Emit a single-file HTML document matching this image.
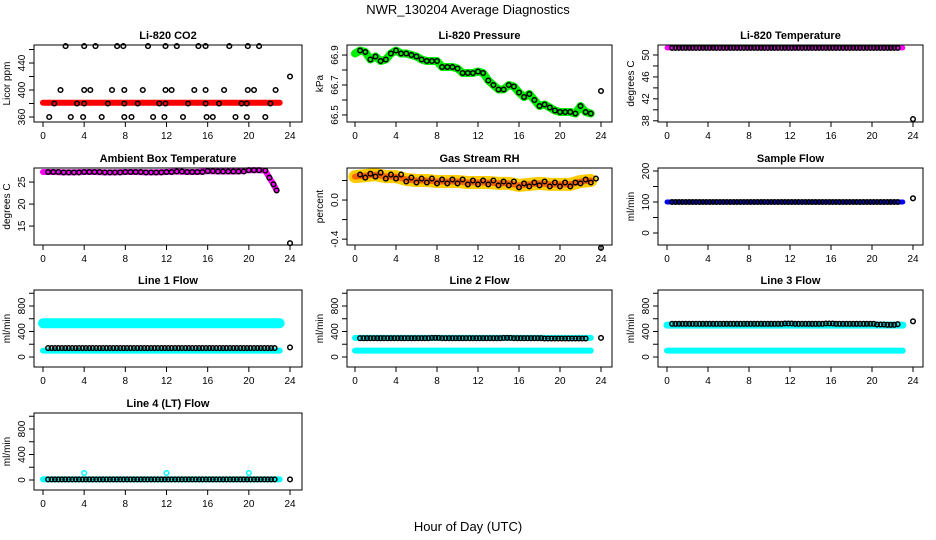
<!DOCTYPE html>
<html><head><meta charset="utf-8">
<style>
html,body{margin:0;padding:0;background:#fff;}
svg{display:block;font-family:"Liberation Sans",sans-serif;}
</style></head>
<body>
<svg id="chart" width="936" height="540" viewBox="0 0 936 540" xmlns="http://www.w3.org/2000/svg">
<text x="468" y="14" text-anchor="middle" font-size="13">NWR_130204  Average Diagnostics</text>
<text x="468" y="531" text-anchor="middle" font-size="13">Hour of Day (UTC)</text>
</svg>
<script>
// ---- data ----
const xTicks = [0,4,8,12,16,20,24];
const hourly = [0,1,2,3,4,5,6,7,8,9,10,11,12,13,14,15,16,17,18,19,20,21,22,23];
const halfHours = [0,0.5,1,1.5,2,2.5,3,3.5,4,4.5,5,5.5,6,6.5,7,7.5,8,8.5,9,9.5,10,10.5,11,11.5,12,12.5,13,13.5,14,14.5,15,15.5,16,16.5,17,17.5,18,18.5,19,19.5,20,20.5,21,21.5,22,22.5,23];

const co2Band = [381,381,381,381,381,381,381,381,381,381,381,381,381,381,381,381,381,381,381,381,381,381,381,381];
const co2PtHours = [2.2,4,5.1,7.2,7.8,10.2,11.9,13,15.1,15.8,18.1,19.9,21,1.7,4,4.6,6.7,7.9,9.7,11.9,12.5,14.7,15.8,17.6,19.9,20.5,22.6,1.1,3.3,4,6.3,7.9,9.2,11.3,11.9,14.1,15.8,17.1,19.3,19.8,22.1,0.6,2.7,3.9,5.7,7.9,8.6,10.7,11.8,13.6,15.9,16.5,18.7,19.8,21.6,24];
const co2PtValues = [465,465,465,465,465,465,465,465,465,465,465,465,465,400,400,400,400,400,400,400,400,400,400,400,400,400,400,380,380,380,380,380,380,380,380,380,380,380,380,380,380,360,360,360,360,360,360,360,360,360,360,360,360,360,360,420];

const pressBand = [66.91,66.93,66.92,66.87,66.89,66.86,66.87,66.91,66.93,66.91,66.91,66.90,66.89,66.87,66.86,66.86,66.86,66.82,66.82,66.82,66.81,66.78,66.78,66.78,66.79,66.78,66.73,66.70,66.67,66.67,66.70,66.69,66.65,66.62,66.64,66.60,66.56,66.57,66.55,66.53,66.52,66.52,66.52,66.51,66.56,66.52,66.51];
const pressLast = 66.66;

const tempBand = [51.3,51.3,51.3,51.3,51.3,51.3,51.3,51.3,51.3,51.3,51.3,51.3,51.3,51.3,51.3,51.3,51.3,51.3,51.3,51.3,51.3,51.3,51.3,51.3];
const tempLast = 38.3;

const ambHours = [0,1,2,3,4,5,6,7,8,9,10,11,12,13,14,15,16,17,18,19,20,21,21.6,22,22.4,22.7];
const ambBand = [27.3,27.3,27.2,27.2,27.3,27.3,27.2,27.2,27.3,27.3,27.2,27.2,27.3,27.4,27.3,27.3,27.5,27.4,27.4,27.4,27.7,27.7,27.6,26.0,24.5,23.1];
const ambLast = 11.1;

const rhBand = [0.24,0.25,0.26,0.24,0.24,0.21,0.20,0.20,0.19,0.19,0.19,0.18,0.18,0.18,0.17,0.17,0.15,0.16,0.17,0.16,0.16,0.16,0.19,0.20];
const rhLast = -0.49;

const sampleBand = [100,100,100,100,100,100,100,100,100,100,100,100,100,100,100,100,100,100,100,100,100,100,100,100];
const sampleLast = 112;

const l1High = [530,530,530,530,530,530,530,530,530,530,530,530,530,530,530,530,530,530,530,530,530,530,530,530];
const l1Low = [100,100,100,100,100,100,100,100,100,100,100,100,100,100,100,100,100,100,100,100,100,100,100,100];
const l1Black = [140,140,140,140,140,140,140,140,140,140,140,140,140,140,140,140,140,140,140,140,140,140,140,140];
const l1Last = 150;
const l2High = [300,300,300,300,300,300,300,300,300,300,300,300,300,300,300,300,300,300,300,300,300,300,300,300];
const l2Low = [100,100,100,100,100,100,100,100,100,100,100,100,100,100,100,100,100,100,100,100,100,100,100,100];
const l2Black = [295,295,295,295,295,295,295,300,295,295,295,295,295,295,300,295,295,295,290,290,290,290,290,290];
const l2Last = 300;
const l3High = [500,500,500,500,500,500,500,500,500,500,500,500,500,500,500,500,500,500,500,500,500,500,500,500];
const l3Low = [100,100,100,100,100,100,100,100,100,100,100,100,100,100,100,100,100,100,100,100,100,100,100,100];
const l3Black = [520,520,520,520,520,520,520,520,520,520,520,525,520,520,520,525,520,520,520,520,510,505,515,520];
const l3Last = 560;
const l4Band = [10,10,10,10,10,10,10,10,10,10,10,10,10,10,10,10,10,10,10,10,10,10,10,10];
const l4SpikeHours = [4,12,20];
const l4Spikes = [110,110,110];
const l4Last = 10;

// ---- layout ----
const cols = [{l:34,r:302,x0:43,x24:290},{l:347,r:612,x0:355,x24:601},{l:658,r:923,x0:667,x24:913}];
const rowTops = [45,168,290,413];
const BH = 77;
const svg = document.getElementById('chart');
const NS = 'http://www.w3.org/2000/svg';
function mk(tag, attrs, parent){
  const e = document.createElementNS(NS, tag);
  for (const k in attrs) e.setAttribute(k, attrs[k]);
  (parent||svg).appendChild(e); return e;
}
const flowDom=[-157,1051], flowTicks=[0,200,400,600,800,1000], flowLabels=[0,400,800];
const panels = [
 {key:'co2',title:'Li-820 CO2',ylab:'Licor ppm',c:0,r:0,dom:[352.6,466.7],ticks:[360,380,400,420,440,460],labels:[360,400,440]},
 {key:'pressure',title:'Li-820 Pressure',ylab:'kPa',c:1,r:0,dom:[66.453,66.967],ticks:[66.5,66.6,66.7,66.8,66.9],labels:[66.5,66.7,66.9],fmt:1},
 {key:'temperature',title:'Li-820 Temperature',ylab:'degrees C',c:2,r:0,dom:[37.78,51.82],ticks:[38,40,42,44,46,48,50],labels:[38,42,46,50]},
 {key:'ambient',title:'Ambient Box Temperature',ylab:'degrees C',c:0,r:1,dom:[10.7,28.2],ticks:[15,20,25],labels:[15,20,25]},
 {key:'rh',title:'Gas Stream RH',ylab:'percent',c:1,r:1,dom:[-0.46,0.328],ticks:[-0.4,-0.2,0,0.2],labels:[-0.4,0],fmt:1},
 {key:'sample',title:'Sample Flow',ylab:'ml/min',c:2,r:1,dom:[-38.7,209.7],ticks:[0,50,100,150,200],labels:[0,100,200]},
 {key:'line1',title:'Line 1 Flow',ylab:'ml/min',c:0,r:2,dom:flowDom,ticks:flowTicks,labels:flowLabels},
 {key:'line2',title:'Line 2 Flow',ylab:'ml/min',c:1,r:2,dom:flowDom,ticks:flowTicks,labels:flowLabels},
 {key:'line3',title:'Line 3 Flow',ylab:'ml/min',c:2,r:2,dom:flowDom,ticks:flowTicks,labels:flowLabels},
 {key:'line4',title:'Line 4 (LT) Flow',ylab:'ml/min',c:0,r:3,dom:flowDom,ticks:flowTicks,labels:flowLabels},
];
function setup(p){
  const col=cols[p.c], top=rowTops[p.r], bot=top+BH;
  const g = mk('g',{});
  
  
  p.g=g;
  p.X = h => col.x0 + (h/24)*(col.x24-col.x0);
  p.Y = v => bot - (v-p.dom[0])/(p.dom[1]-p.dom[0])*BH;
  p.top=top; p.bot=bot; p.col=col;
  const t = mk('text',{x:(col.l+col.r)/2,y:top-6,'text-anchor':'middle','font-size':'11','font-weight':'bold'},g);
  t.textContent=p.title;
  
  
}
function band(p, xs, ys, color, w, name){
  const pts = xs.map((h,i)=>p.X(h).toFixed(1)+','+p.Y(ys[i]).toFixed(1)).join(' ');
  const pl = mk('polyline',{points:pts,fill:'none',stroke:color,'stroke-width':w,'stroke-linejoin':'round','stroke-linecap':'round'},p.g);
  
  
}
function pt(p, h, v, color, name){
  const c = mk('circle',{cx:p.X(h).toFixed(1),cy:p.Y(v).toFixed(1),r:2.3,fill:'none',stroke:color,'stroke-width':1.5},p.g);
  
  
}
function hourlyPts(p, vals, color, name, from, to){
  hourly.forEach((h,i)=>{
    [0,1/3,2/3].forEach(o=>{ const hh=h+o+0.5; if(hh>=from && hh<=to) pt(p,hh,vals[i],color,name); });
  });
}
function frame(p){
  const col=p.col, g=p.g;
  const box = mk('rect',{x:col.l,y:p.top,width:col.r-col.l,height:BH,fill:'none',stroke:'#000','stroke-width':1},g);
  
  
  xTicks.forEach(h=>{
    const x=p.X(h);
    mk('line',{x1:x,y1:p.bot,x2:x,y2:p.bot+5,stroke:'#000'},g);
    const t=mk('text',{x:x,y:p.bot+17,'text-anchor':'middle','font-size':'10'},g);
    t.textContent=h;
    
    
  });
  p.ticks.forEach(v=>{
    const y=p.Y(v);
    mk('line',{x1:col.l,y1:y,x2:col.l-5,y2:y,stroke:'#000'},g);
  });
  p.labels.forEach(v=>{
    const y=p.Y(v), x=col.l-9;
    const t=mk('text',{x:x,y:y,'text-anchor':'middle','font-size':'10',transform:'rotate(-90 '+x+' '+y+')'},g);
    t.textContent = p.fmt ? v.toFixed(1) : v;
    
    
  });
  const yx=col.l-24, yy=(p.top+p.bot)/2;
  const yl=mk('text',{x:yx,y:yy,'text-anchor':'middle','font-size':'10',transform:'rotate(-90 '+yx+' '+yy+')'},g);
  yl.textContent=p.ylab;
  
  
}
panels.forEach(setup);
const P = {}; panels.forEach(p=>P[p.key]=p);

// CO2
band(P.co2, hourly, co2Band, '#ff0000', 6, 'co2-band');
co2PtHours.forEach((h,i)=>pt(P.co2,h,co2PtValues[i],'#000','co2-point'));
// Pressure
band(P.pressure, halfHours, pressBand, '#00ee00', 8, 'pressure-band');
halfHours.forEach((h,i)=>{ if(h>0) pt(P.pressure,h,pressBand[i],'#000','pressure-point'); });
pt(P.pressure,24,pressLast,'#000','pressure-point');
// Temperature
band(P.temperature, hourly, tempBand, '#ff00ff', 5, 'temperature-band');
hourlyPts(P.temperature, tempBand, '#000', 'temperature-point', 0.4, 22.8);
pt(P.temperature,24,tempLast,'#000','temperature-point');
// Ambient
band(P.ambient, ambHours, ambBand, '#ff00ff', 6, 'ambient-band');
ambHours.forEach((h,i)=>{ if(h>0) pt(P.ambient,h,ambBand[i],'#000','ambient-point'); });
hourly.forEach((h,i)=>{ if(h<21) { pt(P.ambient,h+0.5,ambBand[i],'#000','ambient-point'); } });
pt(P.ambient,24,ambLast,'#000','ambient-point');
// RH
band(P.rh, hourly, rhBand, '#ffcc00', 13, 'rh-band-outer');
band(P.rh, hourly, rhBand, '#ff6600', 6, 'rh-band-inner');
hourly.forEach((h,i)=>{ pt(P.rh,h+0.5,rhBand[i]+0.02,'#000','rh-point'); if(h>0) pt(P.rh,h,rhBand[i]-0.02,'#000','rh-point'); });
pt(P.rh,24,rhLast,'#000','rh-point');
// Sample
band(P.sample, hourly, sampleBand, '#0000ff', 5, 'sample-band');
hourlyPts(P.sample, sampleBand, '#000', 'sample-point', 0.4, 22.8);
pt(P.sample,24,sampleLast,'#000','sample-point');
// Line flows
const cy='#00ffff';
band(P.line1, hourly, l1High, cy, 10, 'line1-high-band');
band(P.line1, hourly, l1Low, cy, 6, 'line1-low-band');
hourlyPts(P.line1, l1Black, '#000', 'line1-point', 0.4, 22.8);
pt(P.line1,24,l1Last,'#000','line1-point');
band(P.line2, hourly, l2High, cy, 6, 'line2-high-band');
band(P.line2, hourly, l2Low, cy, 6, 'line2-low-band');
hourlyPts(P.line2, l2Black, '#000', 'line2-point', 0.4, 22.8);
pt(P.line2,24,l2Last,'#000','line2-point');
band(P.line3, hourly, l3High, cy, 7, 'line3-high-band');
band(P.line3, hourly, l3Low, cy, 6, 'line3-low-band');
hourlyPts(P.line3, l3Black, '#000', 'line3-point', 0.4, 22.8);
pt(P.line3,24,l3Last,'#000','line3-point');
band(P.line4, hourly, l4Band, cy, 6, 'line4-band');
hourlyPts(P.line4, l4Band, '#000', 'line4-point', 0.4, 22.8);
l4SpikeHours.forEach((h,i)=>pt(P.line4,h,l4Spikes[i],cy,'line4-spike-point'));
pt(P.line4,24,l4Last,'#000','line4-point');

panels.forEach(frame);
</script>
</body></html>
